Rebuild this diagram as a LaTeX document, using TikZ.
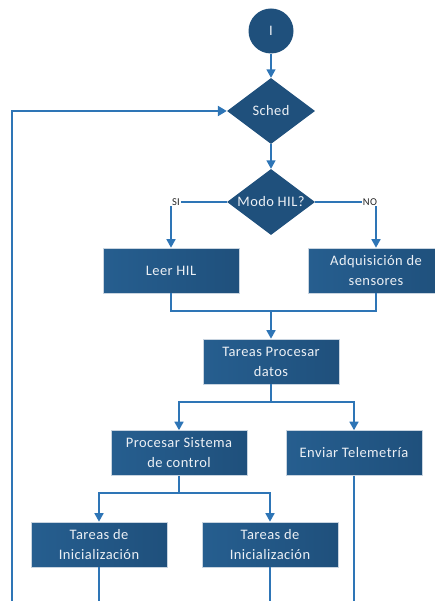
\documentclass[tikz,border=0pt]{standalone}
\usepackage{fontspec}
\setmainfont{Carlito}[LetterSpace=3]
\usetikzlibrary{shapes.geometric,arrows.meta,calc}
\definecolor{boxblue}{RGB}{31,80,124}
\definecolor{boxblueL}{RGB}{38,94,143}
\definecolor{lineblue}{RGB}{46,117,182}
\definecolor{edgegray}{RGB}{200,212,224}
\definecolor{txtwhite}{RGB}{236,240,245}
\begin{document}
\begin{tikzpicture}[x=1pt,y=-1pt,
  boxfont/.style={font=\fontsize{14.5}{20}\selectfont},
  procbox/.style={rectangle, left color=boxblueL, right color=boxblue, draw=edgegray, line width=0.6pt,
    minimum width=136pt, minimum height=45pt, text=txtwhite, align=center, boxfont, inner sep=0pt},
  decbox/.style={diamond, fill=boxblue, minimum width=88pt, minimum height=66pt, inner sep=0pt},
  declabel/.style={text=txtwhite, boxfont},
  startbox/.style={circle, fill=boxblue, minimum size=45pt, inner sep=0pt, text=txtwhite, boxfont},
  conn/.style={draw=lineblue, line width=1.6pt},
  arr/.style={conn, -{Triangle[width=9pt,length=8.5pt]}},
  tag/.style={font=\fontsize{10.5}{12}\selectfont, text=black!85, inner sep=0.5pt, fill=white},
]
\useasboundingbox (0,0) rectangle (435,601);
\clip (0,0) rectangle (435,601);

\node[startbox] (start) at (271,31) {I};
\node[decbox, label={[declabel]center:Sched}] (sched) at (271,111) {};
\node[decbox, label={[declabel]center:Modo HIL?}] (modo) at (271,202) {};
\node[tag] (si) at (176,202) {SI};
\node[tag] (no) at (370,202) {NO};
\node[procbox] (leer) at (171,270.5) {Leer HIL};
\node[procbox] (adq) at (376,270.5) {Adquisición de\\sensores};
\node[procbox] (tpd) at (271,361.5) {Tareas Procesar\\datos};
\node[procbox] (psc) at (179,453) {Procesar Sistema\\de control};
\node[procbox] (env) at (354,453) {Enviar Telemetría};
\node[procbox] (ti1) at (99,544.5) {Tareas de\\Inicialización};
\node[procbox] (ti2) at (270,544.5) {Tareas de\\Inicialización};

\coordinate (m1) at (271,311);
\coordinate (m2) at (271,402);
\coordinate (m3) at (179,493);
\coordinate (b1) at (99,612);
\coordinate (b2) at (270,612);
\coordinate (b3) at (354,612);
\coordinate (lb) at (12,612);

\draw[arr] (start.south) -- (sched.north);
\draw[arr] (sched.south) -- (modo.north);
\draw[conn] (modo.west) -- (si.east);
\draw[arr] (si.south -| leer.north) -- (leer.north);
\draw[conn] (modo.east) -- (no.west);
\draw[arr] (no.south -| adq.north) -- (adq.north);
\draw[conn] (leer.south) |- (m1) -| (adq.south);
\draw[arr] (m1) -- (tpd.north);
\draw[conn] (tpd.south) -- (m2);
\draw[arr] (m2) -| (psc.north);
\draw[arr] (m2) -| (env.north);
\draw[conn] (psc.south) -- (m3);
\draw[arr] (m3) -| (ti1.north);
\draw[arr] (m3) -| (ti2.north);
\draw[conn] (ti1.south) -- (b1);
\draw[conn] (ti2.south) -- (b2);
\draw[conn] (env.south) -- (b3);
\draw[arr, line width=2.6pt, -{Triangle[width=10pt,length=9pt]}] (lb) |- (sched.west);
\end{tikzpicture}
\end{document}
